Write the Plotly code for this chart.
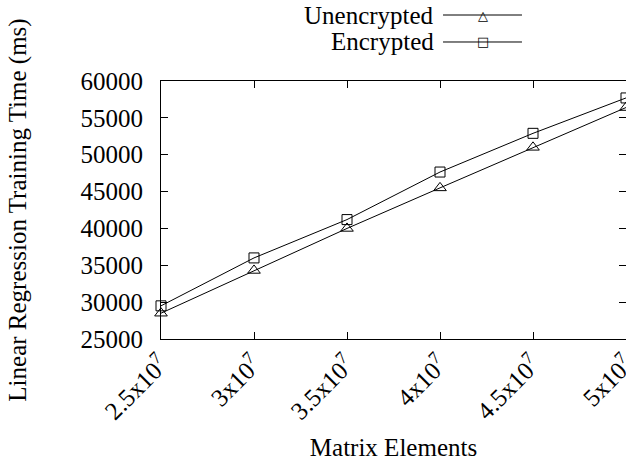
import plotly.graph_objects as go

matrix_elements = [2.5e7, 3.0e7, 3.5e7, 4.0e7, 4.5e7, 5.0e7]
unencrypted_ms = [28500, 34300, 40000, 45500, 51000, 56400]
encrypted_ms = [29500, 36000, 41200, 47650, 52900, 57700]
x_tick_labels = ["2.5x10<sup>7</sup>", "3x10<sup>7</sup>", "3.5x10<sup>7</sup>",
                 "4x10<sup>7</sup>", "4.5x10<sup>7</sup>", "5x10<sup>7</sup>"]
y_ticks = [25000, 30000, 35000, 40000, 45000, 50000, 55000, 60000]
series_names = ["Unencrypted", "Encrypted"]

FONT = "Liberation Serif"
FS = 25
fig = go.Figure()
fig.add_trace(go.Scatter(
    x=matrix_elements, y=unencrypted_ms, name=series_names[0], mode="lines+markers",
    line=dict(color="black", width=1),
    marker=dict(symbol="triangle-up-open", size=11, color="black", line=dict(width=1)),
    cliponaxis=False, showlegend=False))
fig.add_trace(go.Scatter(
    x=matrix_elements, y=encrypted_ms, name=series_names[1], mode="lines+markers",
    line=dict(color="black", width=1),
    marker=dict(symbol="square-open", size=10, color="black", line=dict(width=1)),
    cliponaxis=False, showlegend=False))

# manual gnuplot-style legend (text left, sample right)
legend_y = [1.2558, 1.1512]
legend_sym = ["\u25b3", "\u25a1"]
for i, name in enumerate(series_names):
    fig.add_annotation(x=0.5914, y=legend_y[i], xref="paper", yref="paper",
                       text=name, showarrow=False, xanchor="right", yanchor="middle",
                       font=dict(family=FONT, size=FS, color="black"))
    fig.add_shape(type="line", xref="paper", yref="paper",
                  x0=0.6065, x1=0.7763, y0=legend_y[i], y1=legend_y[i],
                  line=dict(color="black", width=1))
    fig.add_annotation(x=0.6925, y=legend_y[i], xref="paper", yref="paper",
                       text=legend_sym[i], showarrow=False, xanchor="center", yanchor="middle",
                       font=dict(family="DejaVu Sans", size=13, color="black"))

axis_common = dict(showline=True, linecolor="black", linewidth=1, mirror="ticks",
                   ticks="inside", ticklen=7, tickcolor="black", showgrid=False,
                   zeroline=False, automargin=False, ticklabeloverflow="allow",
                   tickfont=dict(family=FONT, size=FS, color="black"))
fig.update_xaxes(range=[2.5e7, 5.0e7], tickvals=matrix_elements, ticktext=x_tick_labels,
                 tickangle=-45,
                 title=dict(text="Matrix Elements", font=dict(family=FONT, size=FS, color="black"),
                            standoff=14),
                 **axis_common)
fig.update_yaxes(range=[25000, 60000], tickvals=y_ticks, ticktext=[str(v) for v in y_ticks],
                 ticklabelstandoff=12,
                 title=dict(text="Linear Regression Training Time (ms)",
                            font=dict(family=FONT, size=FS, color="black"), standoff=46),
                 **axis_common)
fig.update_layout(width=626, height=466, margin=dict(l=161, r=0, t=81, b=127),
                  plot_bgcolor="white", paper_bgcolor="white",
                  font=dict(family=FONT, color="black"))
page_fix = ("document.documentElement.style.overflow='hidden';"
            "document.body.style.margin='0';document.body.style.overflow='hidden';")
fig.write_html("out.html", post_script=page_fix, config={"displayModeBar": False})
